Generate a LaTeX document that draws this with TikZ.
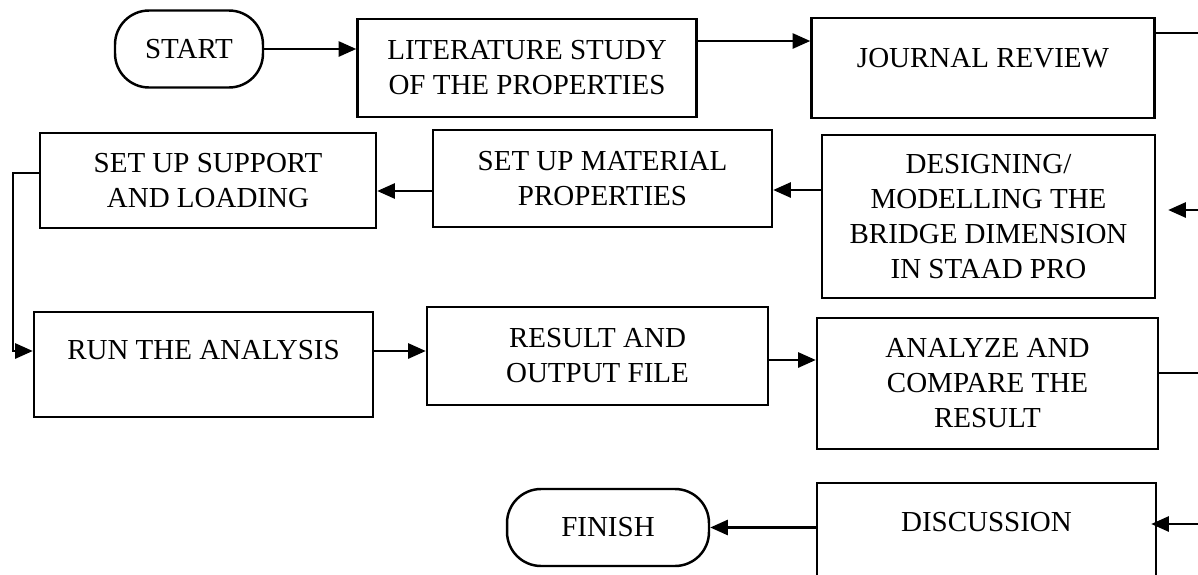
\documentclass[tikz,border=0pt]{standalone}
\usepackage{fontspec}
\setmainfont{Liberation Serif}
\usetikzlibrary{arrows.meta}
\newcommand{\stepfont}{\fontsize{16.5pt}{19.9pt}\selectfont}
\tikzset{
  stepbox/.style={rectangle, draw=black, line width=1.4pt, align=center,
                  font=\stepfont, inner sep=2pt},
  termbox/.style={stepbox, rounded corners=0.68cm},
  flow/.style={-{Triangle[length=10pt,width=8.5pt]}, line width=1.5pt},
  link/.style={line width=1.5pt},
}

\begin{document}
\begin{tikzpicture}[x=0.02cm, y=-0.02cm]
\clip (0,0) rectangle (1198,575);

% Row 1
\node[termbox, minimum width=2.96cm, minimum height=1.54cm] (start) at (189,49) {START};
\node[stepbox, minimum width=6.78cm, minimum height=1.96cm] (lit) at (527,68)
  {LITERATURE STUDY\\OF THE PROPERTIES};
\node[stepbox, minimum width=6.86cm, minimum height=2.0cm, text depth=0.4cm] (journal)
  at (983,68) {JOURNAL REVIEW};

% Row 2 (runs right to left)
\node[stepbox, minimum width=6.66cm, minimum height=3.26cm] (designing) at (988.5,216.5)
  {DESIGNING/\\MODELLING THE\\BRIDGE DIMENSION\\IN STAAD PRO};
\node[stepbox, minimum width=6.78cm, minimum height=1.94cm] (material) at (602.5,178.5)
  {SET UP MATERIAL\\PROPERTIES};
\node[stepbox, minimum width=6.72cm, minimum height=1.9cm] (support) at (208,180.5)
  {SET UP SUPPORT\\AND LOADING};

% Row 3
\node[stepbox, minimum width=6.78cm, minimum height=2.1cm, text depth=0.58cm] (run)
  at (203.5,364.5) {RUN THE ANALYSIS};
\node[stepbox, minimum width=6.82cm, minimum height=1.96cm] (result) at (597.5,356)
  {RESULT AND\\OUTPUT FILE};
\node[stepbox, minimum width=6.82cm, minimum height=2.62cm] (analyze) at (987.5,383.5)
  {ANALYZE AND\\COMPARE THE\\RESULT};

% Row 4
\node[stepbox, minimum width=6.78cm, minimum height=2.34cm, text depth=0.78cm] (discussion)
  at (986.5,541.5) {DISCUSSION};
\node[termbox, minimum width=4.04cm, minimum height=1.54cm] (finish) at (608,527.5) {FINISH};

% Free ends on the right edge, and the bend on the left
\coordinate (jr-exit)  at (1205,33);
\coordinate (ds-entry) at (1205,210);
\coordinate (an-exit)  at (1205,373);
\coordinate (dc-entry) at (1205,524);
\coordinate (loopx)    at (13,173);

% Flow
\draw[flow] (start.east) -- (start.east -| lit.west);
\draw[flow] ([yshift=0.54cm]lit.east) -- ([yshift=0.54cm]journal.west);
\draw[link] (jr-exit -| journal.east) -- (jr-exit);
\draw[flow, shorten >=0.24cm] (ds-entry) -- (ds-entry -| designing.east);
\draw[flow] ([yshift=0.53cm]designing.west) -- ([yshift=0.53cm]designing.west -| material.east);
\draw[flow] ([yshift=-0.25cm]material.west) -- ([yshift=-0.25cm]material.west -| support.east);
\draw[flow] (loopx -| support.west) -- (loopx) |- ([yshift=0.27cm]run.west);
\draw[flow] ([yshift=0.27cm]run.east) -- ([yshift=0.27cm]run.east -| result.west);
\draw[flow] ([yshift=-0.08cm]result.east) -- ([yshift=-0.08cm]result.east -| analyze.west);
\draw[link] (an-exit -| analyze.east) -- (an-exit);
\draw[flow, shorten >=-0.12cm] (dc-entry) -- (dc-entry -| discussion.east);
\draw[flow] (finish.east -| discussion.west) -- (finish.east);

\end{tikzpicture}
\end{document}
